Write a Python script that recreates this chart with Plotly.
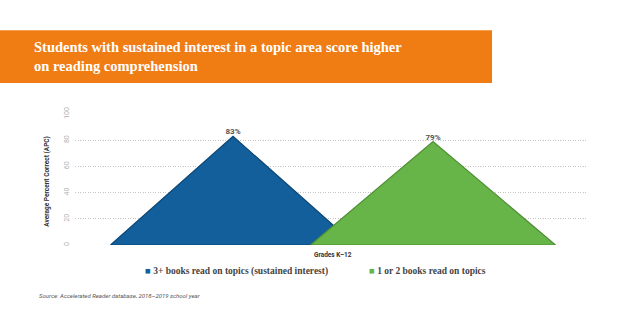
import plotly.graph_objects as go

# Data
groups = ["3+ books read on topics (sustained interest)", "1 or 2 books read on topics"]
apc = [83, 79]
colors = ["#125f9b", "#67b548"]
edges = ["#0c4675", "#4e8f35"]
y_ticks = [0, 20, 40, 60, 80, 100]

title_text = ("Students with sustained interest in a topic area score higher<br>"
              "on reading comprehension")
source_text = "Source: Accelerated Reader database, 2018\u20132019 school year"

half_width = 0.6125  # half of each triangle's base, in category units

fig = go.Figure()

for i, (name, v) in enumerate(zip(groups, apc)):
    fig.add_trace(go.Scatter(
        x=[i - half_width, i, i + half_width, i - half_width],
        y=[0, v, 0, 0],
        mode="lines",
        fill="toself",
        fillcolor=colors[i],
        line=dict(color=edges[i], width=1.2),
        name=name,
        showlegend=False,
        hoverinfo="skip",
    ))
    fig.add_trace(go.Scatter(
        x=[i], y=[v],
        mode="text",
        text=[f"<b>{v}%</b>"],
        textposition="top center",
        textfont=dict(family="Roboto", size=8, color="#555555"),
        showlegend=False,
        hoverinfo="skip",
    ))

# Orange title banner
fig.add_shape(type="rect", xref="paper", yref="paper",
              x0=(0 - 75) / 512, x1=(492 - 75) / 512,
              y0=(328 - 82.5 - 83) / 131.5, y1=(328 - 82.5 - 30) / 131.5,
              fillcolor="#f07c14", line=dict(width=0), layer="below")

annotations = [
    dict(text=f"<b>{title_text}</b>", xref="paper", yref="paper",
         x=(32 - 75) / 512, y=(328 - 82.5 - 56.5) / 131.5,
         xanchor="left", yanchor="middle", align="left", showarrow=False,
         font=dict(family="Liberation Serif", size=14.5, color="white")),
    dict(text=f"<b><span style='color:{colors[0]}'>\u25A0</span> {groups[0]}</b>",
         xref="paper", yref="paper", x=(143 - 75) / 512, y=-(272 - 245.5) / 131.5,
         xanchor="left", yanchor="middle", showarrow=False,
         font=dict(family="Liberation Serif", size=9.5, color="#444444")),
    dict(text=f"<b><span style='color:{colors[1]}'>\u25A0</span> {groups[1]}</b>",
         xref="paper", yref="paper", x=(367 - 75) / 512, y=-(272 - 245.5) / 131.5,
         xanchor="left", yanchor="middle", showarrow=False,
         font=dict(family="Liberation Serif", size=9.5, color="#444444")),
    dict(text=f"<i>{source_text}</i>", xref="paper", yref="paper",
         x=(37 - 75) / 512, y=-(296 - 245.5) / 131.5,
         xanchor="left", yanchor="middle", showarrow=False,
         font=dict(family="Roboto", size=6, color="#555555")),
    dict(text="<b>Average Percent Correct (APC)</b>", xref="paper", yref="paper",
         x=(47 - 75) / 512, y=(245.5 - 182) / 131.5, textangle=-90,
         xanchor="center", yanchor="middle", showarrow=False,
         font=dict(family="Roboto", size=6.5, color="#333333")),
    dict(text="<b>Grades K\u201312</b>", xref="paper", yref="paper",
         x=(333 - 75) / 512, y=-(256 - 245.5) / 131.5,
         xanchor="center", yanchor="middle", showarrow=False,
         font=dict(family="Roboto", size=6.5, color="#333333")),
]

fig.update_layout(
    width=624, height=328,
    margin=dict(l=75, r=37, t=114, b=82.5),
    paper_bgcolor="white", plot_bgcolor="white",
    showlegend=False,
    annotations=annotations,
    xaxis=dict(range=[(75 - 233) / 200, (587 - 233) / 200],
               showgrid=False, zeroline=False, showticklabels=False,
               showline=False, fixedrange=True),
    yaxis=dict(range=[0, 100], tickvals=y_ticks, tickangle=-90,
               showgrid=True, gridcolor="#c4c4c4", griddash="1px,1.5px", gridwidth=1,
               zeroline=False, showline=False, ticks="",
               tickfont=dict(family="Roboto", size=7, color="#b0b0b0"),
               ticklabelstandoff=4, fixedrange=True),
)

fig.write_html("out.html")
